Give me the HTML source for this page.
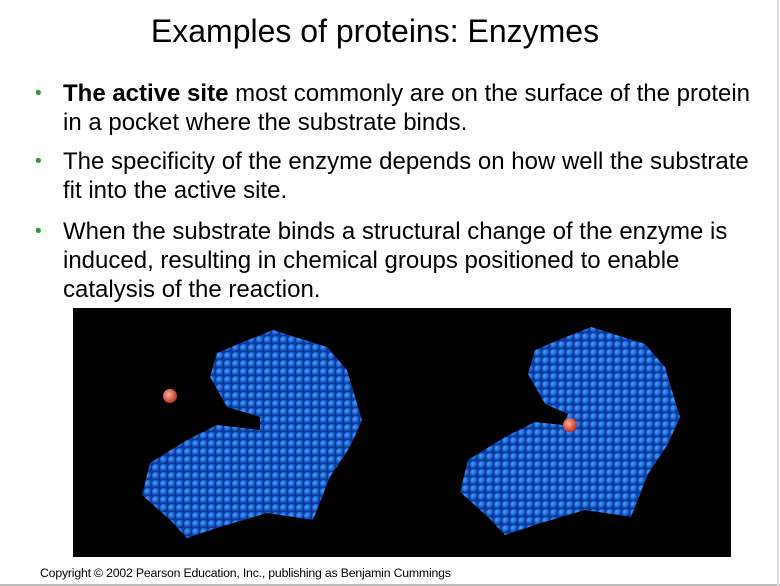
<!DOCTYPE html>
<html><head><meta charset="utf-8"><style>
body{margin:0;width:780px;height:586px;background:#fff;position:relative;overflow:hidden;font-family:"Liberation Sans",Arial,sans-serif;color:#000}
.title{position:absolute;top:13px;left:0;width:750px;text-align:center;font-size:32px}
.b{position:absolute;left:63px;font-size:24px;line-height:29px;width:692px}
.dot{position:absolute;left:-28px;top:0;color:#2e9a3a;font-size:19px}
.img{position:absolute;left:73px;top:308px;width:658px;height:249px;background:#000}
.copy{position:absolute;left:40px;top:566px;font-size:12.3px;letter-spacing:-0.2px}
.hl{position:absolute;left:0;top:584px;width:780px;height:2px;background:#bbb}
.vl{position:absolute;left:777px;top:0;width:2px;height:586px;background:#ddd}
</style></head><body>
<div class="title">Examples of proteins: Enzymes</div>
<div class="b" style="top:79px"><span class="dot">•</span><b>The active site</b> most commonly are on the surface of the protein in a pocket where the substrate binds.</div>
<div class="b" style="top:147px"><span class="dot">•</span>The specificity of the enzyme depends on how well the substrate fit into the active site.</div>
<div class="b" style="top:217px"><span class="dot">•</span>When the substrate binds a structural change of the enzyme is induced, resulting in chemical groups positioned to enable catalysis of the reaction.</div>
<svg class="img" viewBox="73 308 658 249" width="658" height="249">
<defs>
<radialGradient id="g" cx="0.35" cy="0.35" r="0.65"><stop offset="0" stop-color="#4aa0ff"/><stop offset="0.6" stop-color="#1763d6"/><stop offset="1" stop-color="#0a2f80"/></radialGradient>
<pattern id="p" width="8" height="8" patternUnits="userSpaceOnUse"><rect width="8" height="8" fill="#0c3aa0"/><circle cx="4" cy="4" r="4" fill="url(#g)"/></pattern>
<radialGradient id="r" cx="0.4" cy="0.4" r="0.6"><stop offset="0" stop-color="#ffb0a0"/><stop offset="1" stop-color="#c03020"/></radialGradient>
</defs>
<rect x="73" y="308" width="658" height="249" fill="#000"/>
<polygon fill="url(#p)" points="273,330 327,347 347,370 362,420 350,447 330,477 313,520 267,513 220,527 187,538 170,520 142,495 150,463 187,440 217,425 260,430 260,417 227,407 210,377 217,353 243,342"/>
<circle cx="170" cy="396" r="7" fill="url(#r)"/>
<polygon fill="url(#p)" transform="translate(318,-3)" points="273,330 327,347 347,370 362,420 350,447 330,477 313,520 267,513 220,527 187,538 170,520 142,495 150,463 187,440 217,425 245,428 250,417 227,407 210,377 217,353 243,342"/>
<circle cx="570" cy="425" r="7" fill="url(#r)"/>
</svg>
<div class="copy">Copyright © 2002 Pearson Education, Inc., publishing as Benjamin Cummings</div>
<div class="hl"></div>
<div class="vl"></div>
</body></html>
